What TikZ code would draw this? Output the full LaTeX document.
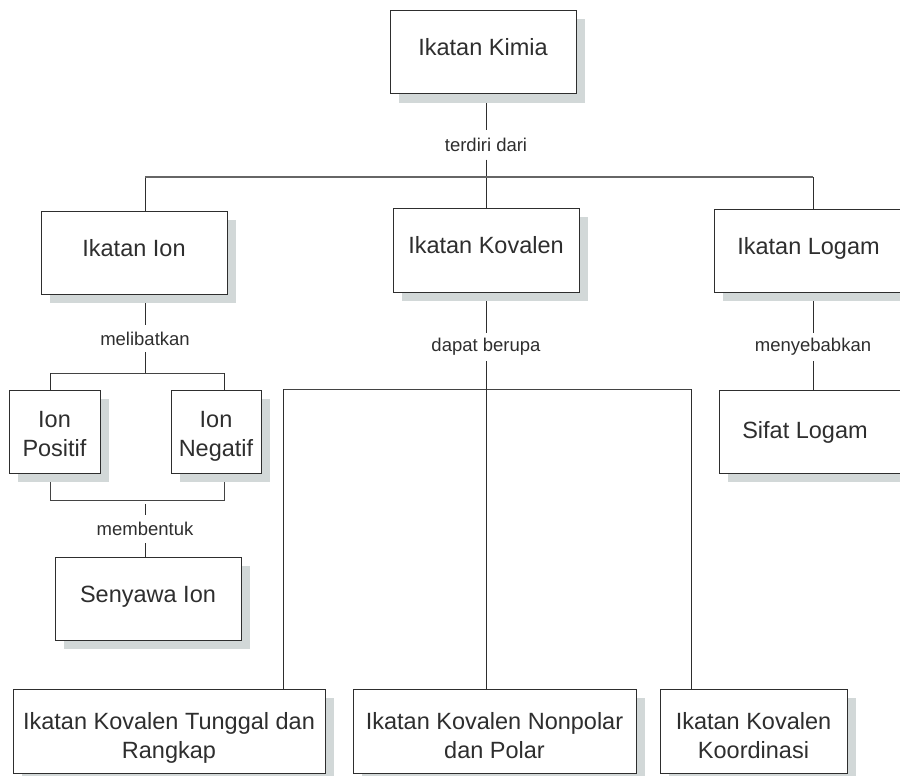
\documentclass[tikz,border=0pt]{standalone}
\usepackage{fontspec}
\setmainfont{Liberation Sans}
\usetikzlibrary{shadows,backgrounds}
\definecolor{ink}{HTML}{2E2E2E}
\definecolor{shade}{HTML}{D2D8D8}
\definecolor{hgray}{HTML}{666666}
\begin{document}
\begin{tikzpicture}[x=1pt,y=-1pt,
  box/.style={draw=ink, line width=1pt, fill=white, text=ink,
    font=\fontsize{23.5}{29}\selectfont, align=center, inner sep=0pt,
    general shadow={fill=shade, shadow xshift=9pt, shadow yshift=-9pt}},
  one/.style={text height=17pt, text depth=10pt},
  twosmall/.style={text height=50pt, text depth=0pt},
  twobig/.style={text height=55pt, text depth=0pt},
  plain/.style={text=ink, font=\fontsize{23.5}{29}\selectfont, inner sep=0pt},
  lbl/.style={text=ink, font=\fontsize{18.5}{22}\selectfont, inner sep=0pt, minimum width=10pt},
  vline/.style={draw=ink, line width=0.9pt},
  hthick/.style={draw=hgray, line width=1.7pt},
  hthin/.style={draw=ink!90, line width=1pt}]
\useasboundingbox (0,0) rectangle (900,776);

% boxes
\node[box, one, minimum width=186pt, minimum height=83pt] (kimia) at (483,52) {Ikatan Kimia};
\node[box, one, minimum width=186pt, minimum height=83pt] (ion) at (134,252.5) {Ikatan Ion};
\node[box, one, minimum width=186pt, minimum height=84pt] (kov) at (486,250) {Ikatan Kovalen};
\node[box, one, minimum width=189pt, minimum height=83pt] (logam) at (808.5,250.5) {Ikatan Logam};
\node[box, twosmall, minimum width=91pt, minimum height=83pt] (pos) at (54.5,431.5) {Ion\\Positif};
\node[box, twosmall, minimum width=90pt, minimum height=83pt] (neg) at (216,431.5) {Ion\\Negatif};
\node[box, one, minimum width=186pt, minimum height=83pt] (senyawa) at (148,598.5) {Senyawa Ion};
\node[box, minimum width=190pt, minimum height=83pt] (sifat) at (814,431.5) {};
\node[plain, one] (sifattxt) at (805,435) {Sifat Logam};
\node[box, twobig, minimum width=312pt, minimum height=84pt] (tunggal) at (169,731) {Ikatan Kovalen Tunggal dan\\Rangkap};
\node[box, twobig, minimum width=283pt, minimum height=84pt] (nonpolar) at (494.5,731) {Ikatan Kovalen Nonpolar\\dan Polar};
\node[box, twobig, minimum width=187pt, minimum height=84pt] (koord) at (753.5,731) {Ikatan Kovalen\\Koordinasi};

% connector labels
\node[lbl, minimum height=29pt] (l1) at (486,145) {terdiri dari};
\node[lbl, minimum height=27pt] (l2) at (145,338.5) {melibatkan};
\node[lbl, minimum height=28pt] (l3) at (145,529) {membentuk};
\node[lbl, minimum height=28pt] (l4) at (486,347) {dapat berupa};
\node[lbl, minimum height=28pt] (l5) at (813,347) {menyebabkan};

% junction coordinates
\coordinate (t0) at (486,177);
\coordinate (tl) at (145,177);
\coordinate (tr) at (813,177);
\coordinate (i0) at (145,373);
\coordinate (ia) at (50,373);
\coordinate (ib) at (224,373);
\coordinate (ja) at (50,500);
\coordinate (jb) at (224,500);
\coordinate (j0) at (145,504);
\coordinate (k0) at (486,389);
\coordinate (ka) at (283,389);
\coordinate (kb) at (691,389);

\begin{pgfonlayer}{background}
  % top level
  \draw[vline] (l1 |- kimia.south) -- (l1.north);
  \draw[vline] (l1.south) -- (t0);
  \draw[vline] (tl) -- (tl |- ion.north);
  \draw[vline] (t0) -- (kov.north);
  \draw[vline] (tr) -- (tr |- logam.north);
  \draw[hthick] (tl) -- (tr);
  % ion branch
  \draw[vline] (l2 |- ion.south) -- (l2.north);
  \draw[vline] (l2.south) -- (i0);
  \draw[hthin] (ia) -- (ib);
  \draw[vline] (ia) -- (ia |- pos.north);
  \draw[vline] (ib) -- (ib |- neg.north);
  \draw[hthin] (ja |- pos.south) -- (ja) -- (jb) -- (jb |- neg.south);
  \draw[vline] (j0) -- (l3.north);
  \draw[vline] (l3.south) -- (l3 |- senyawa.north);
  % kovalen branch
  \draw[vline] (l4 |- kov.south) -- (l4.north);
  \draw[vline] (l4.south) -- (k0);
  \draw[hthin] (ka) -- (kb);
  \draw[vline] (ka) -- (ka |- tunggal.north);
  \draw[vline] (k0) -- (k0 |- nonpolar.north);
  \draw[vline] (kb) -- (kb |- koord.north);
  % logam branch
  \draw[vline] (l5 |- logam.south) -- (l5.north);
  \draw[vline] (l5.south) -- (l5 |- sifat.north);
\end{pgfonlayer}
\end{tikzpicture}
\end{document}
